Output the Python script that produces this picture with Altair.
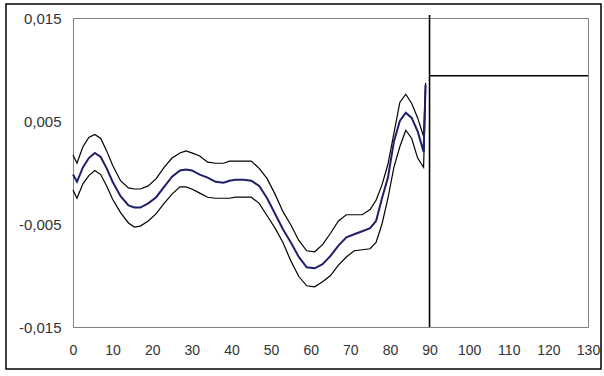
import altair as alt
import pandas as pd

x_vals = [0, 1, 2.5, 4, 5.5, 7, 8.5, 10, 12, 14, 15.5, 17, 19, 21, 23, 25, 27, 28.5, 30, 32,
          34, 36, 38, 39.5, 41, 43, 45, 47, 49, 51, 53, 55, 57, 59, 61, 63, 65, 67, 69, 71,
          73, 75, 76.5, 78, 79.5, 81, 82.5, 84, 85.5, 87, 88.5, 89]

center = [-0.0002, -0.0009, 0.0005, 0.0014, 0.0019, 0.0015, 0.0004, -0.0009, -0.0023, -0.0032,
          -0.0034, -0.0034, -0.0030, -0.0024, -0.0014, -0.0004, 0.0002, 0.0003, 0.0002, -0.0002,
          -0.0005, -0.0009, -0.0010, -0.0008, -0.0007, -0.0007, -0.0008, -0.0013, -0.0025, -0.0040,
          -0.0055, -0.0068, -0.0082, -0.0092, -0.0093, -0.0089, -0.0081, -0.0071, -0.0063, -0.0060,
          -0.0057, -0.0054, -0.0047, -0.0025, -0.0005, 0.0030, 0.0050, 0.0058, 0.0053, 0.0040,
          0.0020, 0.0085]

upper = [0.0017, 0.0009, 0.0025, 0.0034, 0.0037, 0.0033, 0.0021, 0.0007, -0.0008, -0.0015,
         -0.0016, -0.0016, -0.0013, -0.0006, 0.0005, 0.0014, 0.0019, 0.0021, 0.0019, 0.0016,
         0.0010, 0.0009, 0.0009, 0.0011, 0.0011, 0.0011, 0.0011, 0.0004, -0.0006, -0.0021,
         -0.0038, -0.0051, -0.0066, -0.0076, -0.0077, -0.0070, -0.0059, -0.0047, -0.0041, -0.0041,
         -0.0041, -0.0036, -0.0027, -0.0012, 0.0008, 0.0038, 0.0068, 0.0076, 0.0067, 0.0053,
         0.0035, 0.0087]

lower = [-0.0017, -0.0025, -0.0011, -0.0003, 0.0002, -0.0002, -0.0013, -0.0026, -0.0039, -0.0049,
         -0.0053, -0.0052, -0.0047, -0.0040, -0.0030, -0.0021, -0.0014, -0.0014, -0.0016, -0.0020,
         -0.0024, -0.0025, -0.0025, -0.0025, -0.0024, -0.0024, -0.0024, -0.0030, -0.0042, -0.0054,
         -0.0068, -0.0086, -0.0101, -0.0110, -0.0111, -0.0106, -0.0100, -0.0090, -0.0082, -0.0076,
         -0.0075, -0.0074, -0.0068, -0.0050, -0.0025, 0.0005, 0.0025, 0.0041, 0.0033, 0.0014,
         0.0005, 0.0080]

x_ticks = list(range(0, 131, 10))
y_ticks = [-0.015, -0.005, 0.005, 0.015]

# reference lines
vline_x = [90]
vline_y = [-0.015]
vline_y2 = [0.0153]
hline_x = [90]
hline_x2 = [130]
hline_y = [0.0094]

rows = []
for name, vals in [("upper", upper), ("lower", lower), ("center", center)]:
    for xv, yv in zip(x_vals, vals):
        rows.append({"x": xv, "y": yv, "series": name})
df = pd.DataFrame(rows)

xscale = alt.Scale(domain=[0, 130], nice=False, zero=False)
yscale = alt.Scale(domain=[-0.015, 0.015], nice=False, zero=False)

label_expr = "(datum.value < 0 ? '-' : '') + replace(format(abs(datum.value), '.3f'), '.', ',')"

xaxis = alt.Axis(values=x_ticks, ticks=False, domain=False, grid=False, labelPadding=16,
                 labelFontSize=14, labelFont="Liberation Sans", labelColor="#333333", title=None,
                 labelOverlap=False, labelFlush=False, format="d")
yaxis = alt.Axis(values=y_ticks, ticks=False, domain=False, grid=False, labelPadding=12,
                 labelFontSize=15, labelFont="Liberation Sans", labelColor="#333333", title=None,
                 labelExpr=label_expr, labelOverlap=False)

X = alt.X("x:Q", scale=xscale, axis=xaxis)
Y = alt.Y("y:Q", scale=yscale, axis=yaxis)

bands = alt.Chart(df).transform_filter(alt.datum.series != "center").mark_line(
    color="black", strokeWidth=1.2, interpolate="linear"
).encode(x=X, y=Y, detail="series:N")

mid = alt.Chart(df).transform_filter(alt.datum.series == "center").mark_line(
    color="#1f1f6b", strokeWidth=2
).encode(x=X, y=Y)

vdf = pd.DataFrame({"x": vline_x, "y": vline_y, "y2": vline_y2})
vrule = alt.Chart(vdf).mark_rule(color="black", strokeWidth=1.6).encode(
    x=X, y=Y, y2="y2:Q"
)

hdf = pd.DataFrame({"x": hline_x, "x2": hline_x2, "y": hline_y})
hrule = alt.Chart(hdf).mark_rule(color="black", strokeWidth=1.6).encode(
    x=X, x2="x2:Q", y=Y
)

frame = alt.Chart(pd.DataFrame({"a": [0]})).mark_rect(
    fillOpacity=0, stroke="black", strokeWidth=1.5
).encode(
    x=alt.value(-67), x2=alt.value(528), y=alt.value(-14), y2=alt.value(351)
)

chart = alt.layer(bands, mid, vrule, hrule, frame).properties(
    width=515, height=309,
    padding={"left": 73, "top": 18, "right": 16, "bottom": 49},
    autosize=alt.AutoSizeParams(type="none"),
    background="white",
).configure_view(stroke="#808080", strokeWidth=1)

chart.save("out.html", embed_options={"renderer": "svg", "actions": False})
